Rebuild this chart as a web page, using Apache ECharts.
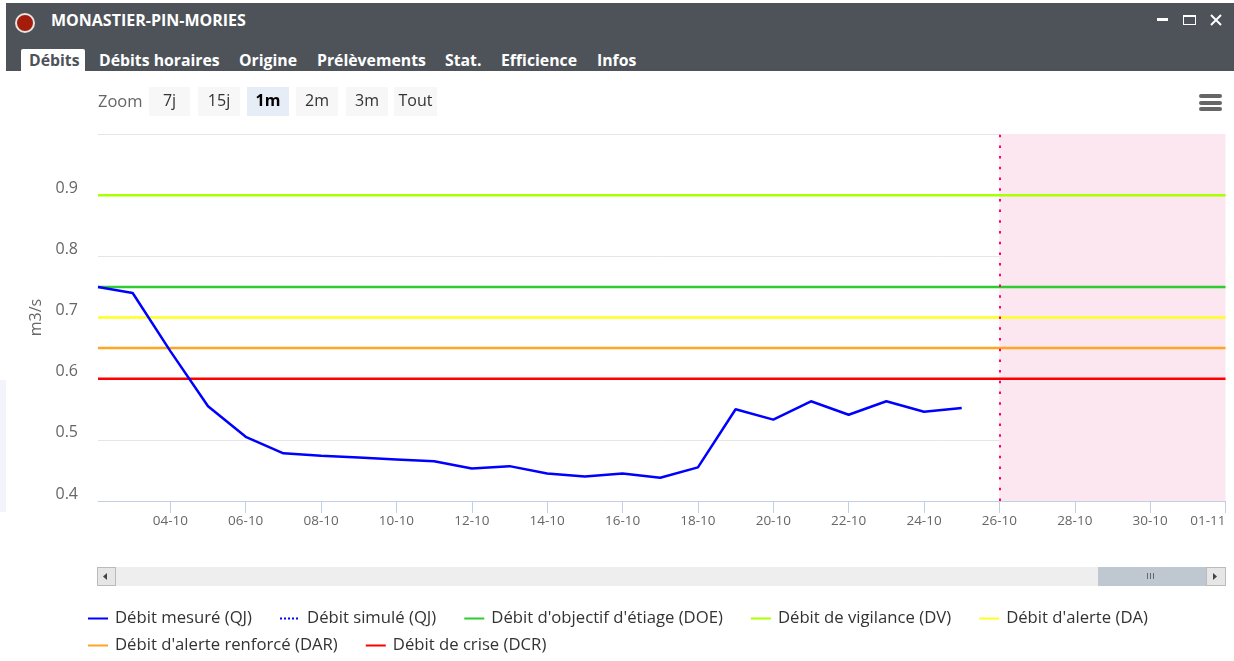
<!DOCTYPE html>
<html>
<head>
<meta charset="utf-8">
<title>MONASTIER-PIN-MORIES</title>
<script src="https://cdn.jsdelivr.net/npm/echarts@6/dist/echarts.min.js"></script>
<style>
html, body { margin: 0; padding: 0; width: 1234px; height: 661px; overflow: hidden; background: #fff; font-family: "Open Sans", sans-serif; }
#chart { position: absolute; left: 0; top: 0; width: 1234px; height: 661px; }
.abs { position: absolute; }
#bar { left: 6px; top: 3px; width: 1228px; height: 68px; background: #4d5359; }
#dot { left: 15px; top: 13px; width: 16px; height: 16px; border-radius: 50%; background: #a31c0c; border: 2px solid #e8e4e2; }
#name { left: 51px; top: 10px; color: #fff; font-weight: 700; font-size: 16px; line-height: 20px; white-space: nowrap; }
#activeTab { left: 21px; top: 49px; width: 64px; height: 22px; background: #fff; border-radius: 2px 2px 0 0; }
.tab { top: 50px; color: #fff; font-weight: 700; font-size: 15.8px; line-height: 20px; white-space: nowrap; }
.btn { top: 87px; height: 29px; line-height: 27px; background: #f7f7f7; color: #333; font-size: 16px; text-align: center; }
#zoomLabel { left: 98px; top: 91px; line-height: 20px; color: #666; font-size: 16.5px; }
.burger { left: 1199px; width: 23px; height: 3.5px; background: #666; border-radius: 2px; }
.track { background: #eeeeee; }
</style>
</head>
<body>
<div id="chart"></div>

<div class="abs" style="left:0;top:380px;width:6px;height:132px;background:#f1f5fb"></div>
<div class="abs" id="bar"></div>
<div class="abs" id="dot"></div>
<div class="abs" id="name">MONASTIER-PIN-MORIES</div>
<div class="abs" style="left:1157px;top:18px;width:11px;height:3px;background:#fff"></div>
<div class="abs" style="left:1183px;top:15px;width:11px;height:7px;border:1px solid #fff;border-top-width:2px"></div>
<svg class="abs" style="left:1210px;top:14px" width="12" height="12"><path d="M1 1 L11 11 M11 1 L1 11" stroke="#fff" stroke-width="2"/></svg>

<div class="abs" id="activeTab"></div>
<div class="abs tab" style="left:29px;color:#4d5359">Débits</div>
<div class="abs tab" style="left:99px">Débits horaires</div>
<div class="abs tab" style="left:239px">Origine</div>
<div class="abs tab" style="left:317px">Prélèvements</div>
<div class="abs tab" style="left:445px">Stat.</div>
<div class="abs tab" style="left:501px">Efficience</div>
<div class="abs tab" style="left:597px">Infos</div>

<div class="abs" id="zoomLabel">Zoom</div>
<div class="abs btn" style="left:149px;width:41px">7j</div>
<div class="abs btn" style="left:198px;width:42px">15j</div>
<div class="abs btn" style="left:247px;width:42px;background:#e6edf6;color:#000;font-weight:700">1m</div>
<div class="abs btn" style="left:296px;width:42px">2m</div>
<div class="abs btn" style="left:346px;width:42px">3m</div>
<div class="abs btn" style="left:394px;width:43px">Tout</div>

<div class="abs burger" style="top:94px"></div>
<div class="abs burger" style="top:101px"></div>
<div class="abs burger" style="top:107px"></div>

<!-- barre de defilement -->
<div class="abs track" style="left:97px;top:567px;width:1128px;height:19px"></div>
<div class="abs" style="left:97px;top:567px;width:17px;height:17px;background:#e6e6e6;border:1px solid #bbb"></div>
<svg class="abs" style="left:103px;top:573px" width="6" height="8"><path d="M4 0 L4 7 L0 3.5 Z" fill="#444"/></svg>
<div class="abs" style="left:1098px;top:567px;width:108px;height:19px;background:#bfc8d1"></div>
<div class="abs" style="left:1147px;top:573px;width:1px;height:6px;background:#666;box-shadow:3px 0 0 #666,6px 0 0 #666"></div>
<div class="abs" style="left:1206px;top:567px;width:18px;height:17px;background:#e6e6e6;border:1px solid #bbb"></div>
<svg class="abs" style="left:1213px;top:573px" width="6" height="8"><path d="M0 0 L0 7 L4 3.5 Z" fill="#444"/></svg>

<script>
// jours d'octobre, 32 = 01-11
var days = [2.08, 3, 4, 5, 6, 7, 8, 9, 10, 11, 12, 13, 14, 15, 16, 17, 18, 19, 20, 21, 22, 23, 24, 25]
var measured = [0.75, 0.74, 0.645, 0.555, 0.505, 0.478, 0.474, 0.471, 0.468, 0.465, 0.453, 0.457, 0.445, 0.44, 0.445, 0.438, 0.455, 0.55, 0.533, 0.563, 0.541, 0.563, 0.546, 0.552]
var simulated = []
var doe = 0.75
var dv = 0.9
var da = 0.7
var dar = 0.65
var dcr = 0.6
var tickDays = [4, 6, 8, 10, 12, 14, 16, 18, 20, 22, 24, 26, 28, 30, 32]
var tickLabels = ['04-10', '06-10', '08-10', '10-10', '12-10', '14-10', '16-10', '18-10', '20-10', '22-10', '24-10', '26-10', '28-10', '30-10', '01-11']
var yLabels = [0.4, 0.5, 0.6, 0.7, 0.8, 0.9]
var xMin = 2.08
var xMax = 32
var forecastStart = 26

function level(name, value, color) {
  return {
    name: name,
    type: 'line',
    symbol: 'none',
    z: 3,
    lineStyle: { color: color, width: 2.5 },
    itemStyle: { color: color },
    data: [[xMin, value], [xMax, value]]
  }
}

var legendText = { color: '#333', fontSize: 16.7, fontFamily: 'Open Sans', padding: [0, 0, 0, 2] }

var chart = echarts.init(document.getElementById('chart'))
chart.setOption({
  animation: false,
  grid: { left: 98, right: 8.5, top: 134, height: 367 },
  legend: [
    {
      left: 82, top: 605, itemWidth: 20, itemHeight: 14, itemGap: 27,
      itemStyle: { opacity: 0 },
      textStyle: legendText,
      data: ['Débit mesuré (QJ)', 'Débit simulé (QJ)', "Débit d'objectif d'étiage (DOE)", 'Débit de vigilance (DV)', "Débit d'alerte (DA)"]
    },
    {
      left: 82, top: 632, itemWidth: 20, itemHeight: 14, itemGap: 27,
      itemStyle: { opacity: 0 },
      textStyle: legendText,
      data: ["Débit d'alerte renforcé (DAR)", 'Débit de crise (DCR)']
    }
  ],
  xAxis: {
    type: 'value',
    min: xMin,
    max: xMax,
    splitLine: { show: false },
    axisLine: { lineStyle: { color: '#c0d0e0' } },
    axisTick: { length: 12, lineStyle: { color: '#c0d0e0' }, customValues: tickDays },
    axisLabel: {
      color: '#666',
      fontSize: 13.5,
      fontFamily: 'Open Sans',
      margin: 13,
      alignMaxLabel: 'right',
      customValues: tickDays,
      formatter: function(v) {
        return tickLabels[tickDays.indexOf(v)]
      }
    }
  },
  yAxis: {
    type: 'value',
    min: 0.4,
    max: 1,
    interval: 0.1,
    name: 'm3/s',
    nameLocation: 'middle',
    nameGap: 53,
    nameTextStyle: { color: '#666', fontSize: 16, fontFamily: 'Open Sans' },
    axisLine: { show: false },
    axisTick: { show: false },
    splitLine: { lineStyle: { color: '#e6e6e6' } },
    axisLabel: {
      color: '#666',
      fontSize: 16,
      lineHeight: 14,
      fontFamily: 'Open Sans',
      margin: 20,
      verticalAlign: 'bottom',
      customValues: yLabels,
      formatter: function(v) {
        return v.toFixed(1)
      }
    }
  },
  series: [
    {
      name: 'Débit mesuré (QJ)',
      type: 'line',
      symbol: 'none',
      z: 5,
      lineStyle: { color: '#0000ff', width: 2.5 },
      itemStyle: { color: '#0000ff' },
      data: days.map(function(d, i) { return [d, measured[i]] }),
      markArea: {
        silent: true,
        itemStyle: { color: '#fce6ef' },
        data: [[{ xAxis: forecastStart }, { xAxis: xMax }]]
      },
      markLine: {
        silent: true,
        symbol: 'none',
        label: { show: false },
        lineStyle: { color: '#f5086e', width: 2, type: [2.5, 8.2] },
        data: [{ xAxis: forecastStart }]
      }
    },
    {
      name: 'Débit simulé (QJ)',
      type: 'line',
      symbol: 'none',
      lineStyle: { color: '#0000ff', width: 2.5, type: 'dotted' },
      itemStyle: { color: '#0000ff' },
      data: simulated
    },
    level("Débit d'objectif d'étiage (DOE)", doe, '#2fcc2f'),
    level('Débit de vigilance (DV)', dv, '#aaff00'),
    level("Débit d'alerte (DA)", da, '#ffff22'),
    level("Débit d'alerte renforcé (DAR)", dar, '#ffa520'),
    level('Débit de crise (DCR)', dcr, '#ff0000')
  ]
})
</script>
</body>
</html>
